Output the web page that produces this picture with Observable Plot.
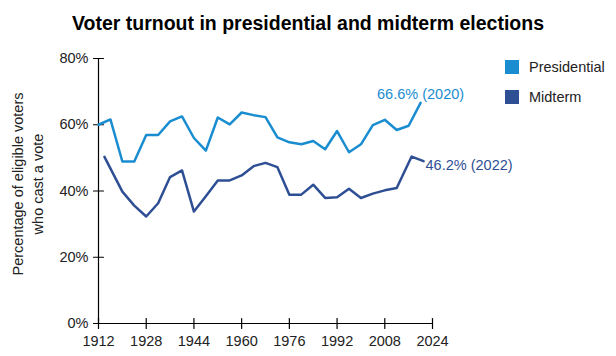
<!DOCTYPE html>
<html>
<head>
<meta charset="utf-8">
<script src="https://cdn.jsdelivr.net/npm/d3@7"></script>
<script src="https://cdn.jsdelivr.net/npm/@observablehq/plot@0.6"></script>
<style>
  html, body { margin: 0; padding: 0; background: #fff; }
  body { font-family: Arial, "Liberation Sans", Helvetica, sans-serif; }
  #wrap { position: relative; width: 616px; height: 356px; overflow: hidden; background: #fff; }
  #chart { position: absolute; left: 0; top: 0; }
  #title { position: absolute; left: 0; top: 12px; width: 616px; text-align: center;
           font-weight: bold; font-size: 19.5px; color: #000; white-space: nowrap; }
  #ylab { position: absolute; left: 28px; top: 184px; transform: translate(-50%, -50%) rotate(-90deg);
          text-align: center; font-size: 14.5px; line-height: 20px; color: #222; white-space: nowrap; }
  .leg { position: absolute; left: 505px; height: 14px; display: flex; align-items: center;
         font-size: 14.5px; color: #222; white-space: nowrap; }
  .sw { width: 14px; height: 14px; margin-right: 10px; flex: none; }
</style>
</head>
<body>
<div id="wrap">
  <div id="chart"></div>
  <div id="title"></div>
  <div id="ylab"></div>
  <div id="legend"></div>
</div>
<script>
const titleText = "Voter turnout in presidential and midterm elections";
const yLabelLines = ["Percentage of eligible voters", "who cast a vote"];
const seriesNames = ["Presidential", "Midterm"];
const seriesColors = ["#1a8dd0", "#2f4f94"];
const xTicks = [1912, 1928, 1944, 1960, 1976, 1992, 2008, 2024];
const yTicks = [0, 20, 40, 60, 80];

const presYears = [1912, 1916, 1920, 1924, 1928, 1932, 1936, 1940, 1944, 1948, 1952, 1956, 1960, 1964,
                   1968, 1972, 1976, 1980, 1984, 1988, 1992, 1996, 2000, 2004, 2008, 2012, 2016, 2020];
const presTurnout = [60.0, 61.6, 48.9, 48.9, 56.9, 56.9, 61.0, 62.5, 56.0, 52.2, 62.2, 60.1, 63.7, 62.9,
                     62.3, 56.2, 54.7, 54.1, 55.1, 52.6, 58.1, 51.7, 54.1, 59.9, 61.5, 58.4, 59.7, 66.6];

// midterm points, positioned as drawn in the picture
const midYears = [1914, 1920, 1924, 1928, 1932, 1936, 1940, 1944, 1948, 1952, 1956, 1960, 1964, 1968,
                  1972, 1976, 1980, 1984, 1988, 1992, 1996, 2000, 2004, 2008, 2012, 2017, 2021];
const midTurnout = [50.3, 39.8, 35.6, 32.3, 36.3, 44.2, 46.2, 33.8, 38.4, 43.2, 43.2, 44.7, 47.5, 48.5,
                    47.2, 38.9, 38.9, 41.9, 37.9, 38.1, 40.7, 37.9, 39.2, 40.2, 40.9, 50.4, 49.0];

const endLabels = ["66.6% (2020)", "46.2% (2022)"];

const rows = [
  ...presYears.map((year, i) => ({year, value: presTurnout[i], series: seriesNames[0]})),
  ...midYears.map((year, i) => ({year, value: midTurnout[i], series: seriesNames[1]}))
];
const presLast = rows.filter(d => d.series === seriesNames[0]).at(-1);
const midLast = rows.filter(d => d.series === seriesNames[1]).at(-1);

const tickShape = {draw(context, l) { context.moveTo(0, 0); context.lineTo(0, -l); }};

const chart = Plot.plot({
  width: 616,
  height: 356,
  marginTop: 58,
  marginBottom: 33,
  marginLeft: 98,
  marginRight: 184,
  style: {fontFamily: 'Arial, "Liberation Sans", sans-serif', fontSize: "14.5px", color: "#222", background: "transparent", overflow: "visible"},
  x: {domain: [1912, 2024], ticks: xTicks, tickFormat: d => String(d), label: null},
  y: {domain: [0, 80], ticks: yTicks, tickFormat: d => d + "%", label: null},
  color: {domain: seriesNames, range: seriesColors},
  marks: [
    Plot.axisX({ticks: xTicks, tickFormat: d => String(d), tickSize: 0, tickPadding: 12, fontSize: 14.5, fill: "#222", label: null}),
    Plot.axisY({ticks: yTicks, tickFormat: d => d + "%", tickSize: 0, tickPadding: 10, fontSize: 14.5, fill: "#222", label: null}),
    Plot.ruleY([0], {stroke: "#000", strokeWidth: 1.2}),
    Plot.ruleX([1912], {stroke: "#000", strokeWidth: 1.2}),
    Plot.vector(xTicks, {x: d => d, y: 0, length: 10, anchor: "middle", shape: tickShape, stroke: "#000", strokeWidth: 1.2}),
    Plot.vector(yTicks, {x: 1912, y: d => d, length: 10, rotate: 90, anchor: "middle", shape: tickShape, stroke: "#000", strokeWidth: 1.2}),
    Plot.line(rows, {x: "year", y: "value", z: "series", stroke: "series", strokeWidth: 2.5}),
    Plot.text([presLast], {x: "year", y: "value", text: () => endLabels[0], fill: seriesColors[0],
                           textAnchor: "middle", lineAnchor: "bottom", dy: -4, fontSize: 14.5}),
    Plot.text([midLast], {x: "year", y: "value", text: () => endLabels[1], fill: seriesColors[1],
                          textAnchor: "start", dx: 2, dy: 4, fontSize: 14.5})
  ]
});
document.getElementById("chart").appendChild(chart);

document.getElementById("title").textContent = titleText;
document.getElementById("ylab").innerHTML = yLabelLines.map(s => `<div>${s}</div>`).join("");

const legend = document.getElementById("legend");
seriesNames.forEach((name, i) => {
  const item = document.createElement("div");
  item.className = "leg";
  item.style.top = (60 + i * 30) + "px";
  item.innerHTML = `<div class="sw" style="background:${seriesColors[i]}"></div><span>${name}</span>`;
  legend.appendChild(item);
});
</script>
</body>
</html>
